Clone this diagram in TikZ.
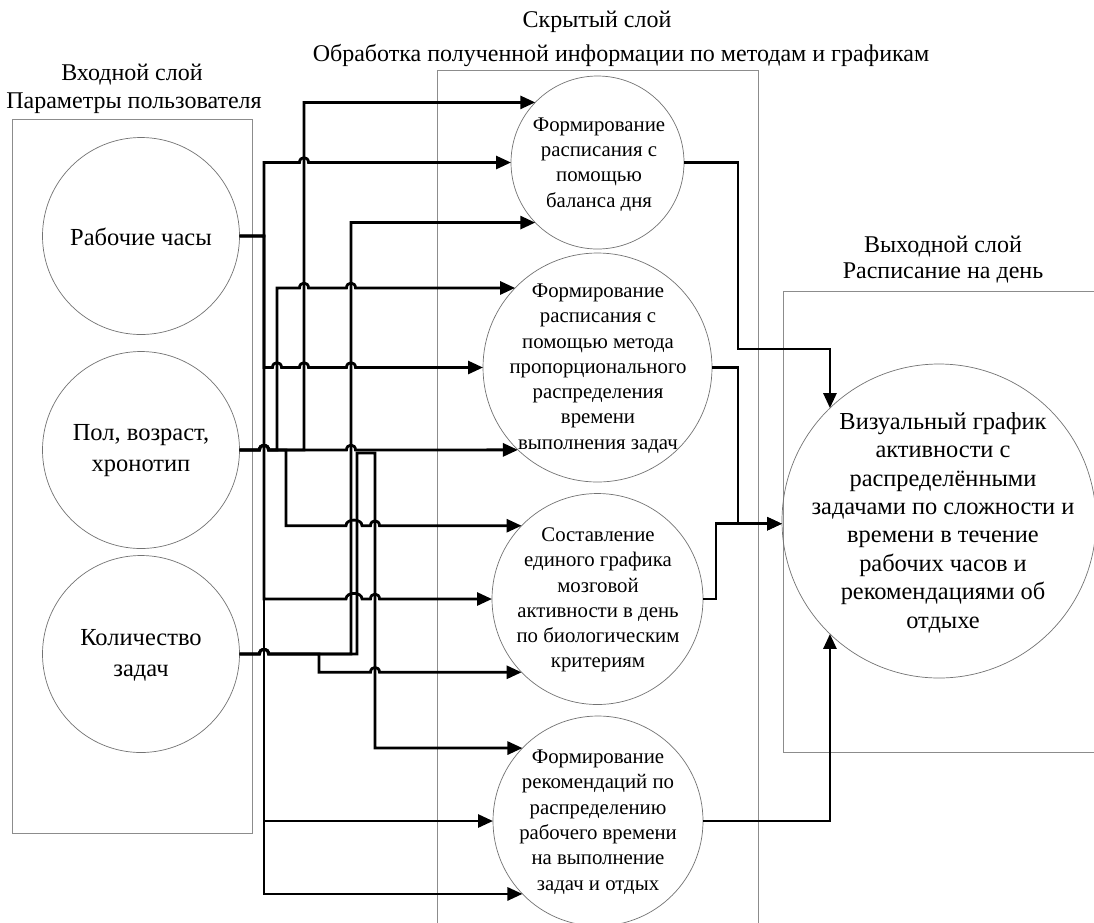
\documentclass[tikz,border=0pt]{standalone}
\usepackage{fontspec}
\setmainfont{Liberation Serif}
\usetikzlibrary{arrows.meta}

\begin{document}
\begin{tikzpicture}[x=1pt,y=-1pt,
  frame/.style={draw=black!45, line width=0.9pt},
  bubble/.style={circle, draw=black!55, line width=0.7pt, inner sep=0pt, outer sep=0pt},
  caption/.style={font=\rmfamily\fontsize{24}{28}\selectfont, align=center, inner sep=0pt},
  intext/.style={font=\rmfamily\fontsize{24.5}{31}\selectfont, align=center, inner sep=0pt},
  midtext/.style={font=\rmfamily\fontsize{20.8}{25.3}\selectfont, align=center, inner sep=0pt},
  outtext/.style={font=\rmfamily\fontsize{24.4}{28.4}\selectfont, align=center, inner sep=0pt},
  wire/.style={line width=2.8pt},
  arr/.style={wire, -{Triangle[length=15pt,width=13pt]}},
  hop/.style 2 args={insert path={-- ({#1-4.5},#2) .. controls ({#1-4.5},{#2-6.5}) and ({#1+4.5},{#2-6.5}) .. ({#1+4.5},#2)}},
  widehop/.style 2 args={insert path={-- ({#1-8},#2) .. controls ({#1-8},{#2-7.5}) and ({#1+8},{#2-7.5}) .. ({#1+8},#2)}},
]
\clip (0,0) rectangle (1094,922);
\fill[white] (0,0) rectangle (1094,922);

% layer frames
\draw[frame] (12,119) rectangle (252,833);
\draw[frame] (437,930) -- (437,70) -- (758,70) -- (758,930);
\draw[frame] (1100,291) -- (783,291) -- (783,752) -- (1100,752);

% layer captions
\node[caption] (capin1) at (132,75) {Входной слой};
\node[caption] (capin2) at (134,103) {Параметры пользователя};
\node[caption] (caphid1) at (597,22) {Скрытый слой};
\node[caption] (caphid2) at (621,55) {Обработка полученной информации по методам и графикам};
\node[caption] (capout1) at (943,247) {Выходной слой};
\node[caption] (capout2) at (943,273) {Расписание на день};

% input layer
\node[bubble, minimum size=197pt] (i1) at (141,236) {};
\node[bubble, minimum size=197pt] (i2) at (141,450) {};
\node[bubble, minimum size=197pt] (i3) at (141,654) {};
\node[intext] (i1t) at (141,237) {Рабочие часы};
\node[intext] (i2t) at (141,451) {Пол, возраст,\\хронотип};
\node[intext] (i3t) at (141,655) {Количество\\задач};

% hidden layer
\node[bubble, minimum size=173pt] (h1) at (597.5,162.5) {};
\node[bubble, minimum size=229pt] (h2) at (597.5,367.5) {};
\node[bubble, minimum size=211pt] (h3) at (597.5,599) {};
\node[bubble, minimum size=210pt] (h4) at (598,821) {};
\node[midtext] (h1t) at (599,164.5) {Формирование\\расписания с\\помощью\\баланса дня};
\node[midtext] (h2t) at (598,368.5) {Формирование\\расписания с\\помощью метода\\пропорционального\\распределения\\времени\\выполнения задач};
\node[midtext] (h3t) at (598,600) {Составление\\единого графика\\мозговой\\активности в день\\по биологическим\\критериям};
\node[midtext] (h4t) at (598,822) {Формирование\\рекомендаций по\\распределению\\рабочего времени\\на выполнение\\задач и отдых};

% output layer
\node[bubble, minimum size=314pt] (o) at (939,521) {};
\node[outtext] (ot) at (943,522.5) {Визуальный график\\активности с\\распределёнными\\задачами по сложности и\\времени в течение\\рабочих часов и\\рекомендациями об\\отдыхе};

% links from "Рабочие часы"
\draw[arr] (i1.east) -- (264,236) -- (264,162.5) [hop={304}{162.5}] -- (h1.west);
\draw[arr] (i1.east) -- (264,236) -- (264,367.5) [hop={277}{367.5}] [hop={304}{367.5}] [hop={351}{367.5}] -- (h2.west);
\draw[arr] (i1.east) -- (264,236) -- (264,599) [widehop={354}{599}] [hop={375}{599}] -- (h3.west);
\draw[arr] (i1.east) -- (264,236) -- (264,821) -- (h4.west);
\draw[arr] (i1.east) -- (264,236) -- (264,0 |- h4.224) -- (h4.224);

% links from "Пол, возраст, хронотип"
\draw[arr] (i2.east) [hop={264}{450}] -- (304,450) -- (304,0 |- h1.136) -- (h1.136);
\draw[arr] (i2.east) [hop={264}{450}] -- (277,450) -- (277,288) [hop={304}{288}] [hop={351}{288}] -- (h2.136);
\draw[arr] (i2.east) [hop={264}{450}] [hop={351}{450}] -- (h2.226);
\draw[arr] (i2.east) [hop={264}{450}] -- (286,450) -- (286,525.7) [widehop={354}{525.7}] [hop={375}{525.7}] -- (h3.136);

% links from "Количество задач"
\draw[arr] (i3.east) [hop={264}{654}] -- (351,654) -- (351,0 |- h1.224) -- (h1.224);
\draw[arr] (i3.east) [hop={264}{654}] -- (319,654) -- (319,672.3) [hop={375}{672.3}] -- (h3.224);
\draw[arr] (i3.east) [hop={264}{654}] -- (357,654) -- (357,453) -- (375,453) -- (375,0 |- h4.136) -- (h4.136);

% hidden layer to output
\draw[arr] (h1.east) -- (738,162.5) -- (738,349) -- (o.134 |- 0,349) -- (o.134);
\draw[arr] (h2.east) -- (738,367.5) -- (738,0 |- o.181) -- (o.181);
\draw[arr] (h3.east) -- (716,599) -- (716,0 |- o.181) -- (o.181);
\draw[arr] (h4.east) -- (o.226 |- h4.east) -- (o.226);
\end{tikzpicture}
\end{document}
